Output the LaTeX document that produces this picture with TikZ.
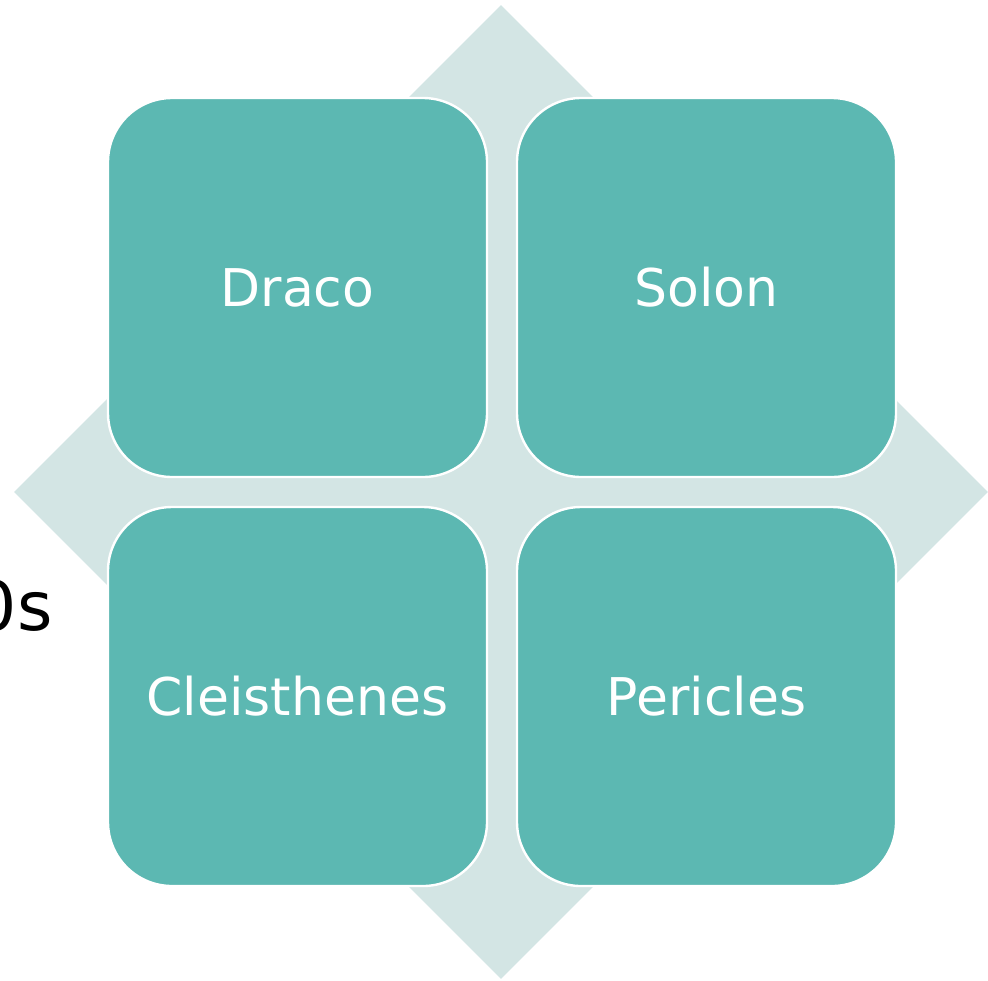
\documentclass[tikz,border=0pt]{standalone}
\usepackage{fontspec}
\setmainfont{DejaVu Sans}
\usepackage{xcolor}
\usepackage{tikz}
\usetikzlibrary{shapes.geometric,positioning}
\definecolor{tealbox}{RGB}{92,184,178}
\definecolor{tealpale}{RGB}{211,229,228}
\tikzset{
  leader/.style ={rectangle, rounded corners=32pt, draw=white, line width=1.2pt,
                  fill=tealbox, minimum width=189.5pt, minimum height=189.5pt,
                  inner sep=0pt, outer sep=0pt, text=white, font=\fontsize{26}{30}\selectfont},
  backdia/.style={diamond, aspect=1, fill=tealpale, inner sep=0pt,
                  minimum width=487pt, minimum height=487pt},
  sidelbl/.style={font=\fontsize{34}{40}\selectfont, text=black, inner sep=0pt}
}

\begin{document}
\begin{tikzpicture}[x=0.5pt, y=-0.5pt, node distance=15pt and 15pt]
\useasboundingbox (0,0) rectangle (988,980);
\node[backdia] (dia) at (501,492) {};
\node[sidelbl, anchor=south east] (yrs) at (53,632) {0s};
\node[leader] (draco) at (297.5,287.5) {Draco};
\node[leader, right=of draco] (solon) {Solon};
\node[leader, below=of draco] (cleis) {Cleisthenes};
\node[leader, right=of cleis] (peric) {Pericles};
\end{tikzpicture}
\end{document}
